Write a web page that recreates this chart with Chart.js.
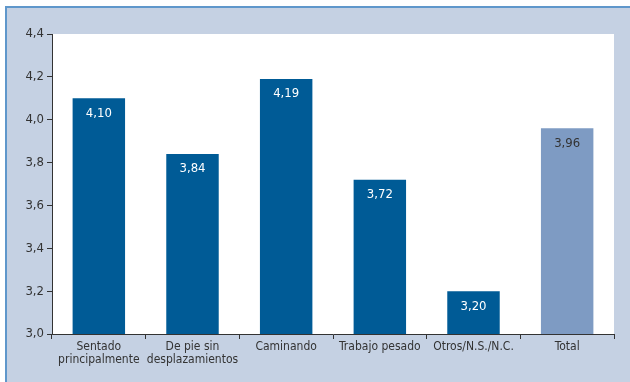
<!DOCTYPE html>
<html>
<head>
<meta charset="utf-8">
<script src="https://cdn.jsdelivr.net/npm/chart.js@4/dist/chart.umd.min.js"></script>
<style>
  html, body { margin: 0; padding: 0; background: #fff; overflow: hidden; width: 630px; height: 382px; }
  #frame {
    position: absolute; left: 5px; top: 6px; width: 625px; height: 376px; box-sizing: border-box;
    background: #c5d1e3; border-top: 2px solid #5f97cb; border-left: 2px solid #5f97cb;
  }
  #wrap { position: absolute; left: 0; top: 0; width: 630px; height: 382px; }
</style>
</head>
<body>
<div id="frame"></div>
<div id="wrap"><canvas id="chart" width="630" height="382"></canvas></div>
<script>
const categories = [["Sentado", "principalmente"], ["De pie sin", "desplazamientos"], "Caminando", "Trabajo pesado", "Otros/N.S./N.C.", "Total"]
const values = [4.10, 3.84, 4.19, 3.72, 3.20, 3.96]
const barColors = ["#005b96", "#005b96", "#005b96", "#005b96", "#005b96", "#7e9bc3"]
const labelColors = ["#fff", "#fff", "#fff", "#fff", "#fff", "#333"]

const fontFamily = "'DejaVu Sans Condensed', 'Liberation Sans', Arial, sans-serif"

// white plot area behind the bars
const plotBackground = {
  id: "plotBackground",
  beforeDraw(chart) {
    const { ctx, chartArea } = chart
    ctx.save()
    ctx.fillStyle = "#fff"
    ctx.fillRect(chartArea.left, chartArea.top, chartArea.right - chartArea.left, chartArea.bottom - chartArea.top)
    ctx.restore()
  }
}

// value text inside the top of each bar
const valueLabels = {
  id: "valueLabels",
  afterDatasetsDraw(chart) {
    const { ctx } = chart
    const meta = chart.getDatasetMeta(0)
    ctx.save()
    ctx.font = "13px " + fontFamily
    ctx.textAlign = "center"
    ctx.textBaseline = "middle"
    meta.data.forEach((bar, i) => {
      ctx.fillStyle = labelColors[i]
      ctx.fillText(values[i].toFixed(2).replace(".", ","), bar.x, bar.y + 15)
    })
    ctx.restore()
  }
}

const ctx = document.getElementById("chart").getContext("2d")
new Chart(ctx, {
  type: "bar",
  data: {
    labels: categories,
    datasets: [{
      data: values,
      backgroundColor: barColors,
      barPercentage: 0.56,
      categoryPercentage: 1
    }]
  },
  options: {
    responsive: false,
    animation: false,
    layout: { padding: { left: 0, top: 34, right: 16, bottom: 0 } },
    plugins: { legend: { display: false }, tooltip: { enabled: false } },
    scales: {
      y: {
        min: 3.0,
        max: 4.4,
        ticks: {
          stepSize: 0.2,
          color: "#333",
          font: { family: fontFamily, size: 13 },
          padding: 3,
          callback: (v) => v.toFixed(1).replace(".", ",")
        },
        grid: { drawOnChartArea: false, drawTicks: true, tickLength: 5, color: "#333" },
        border: { color: "#333", width: 1 },
        afterFit(scale) { scale.width = 52 }
      },
      x: {
        ticks: {
          color: "#333",
          font: { family: fontFamily, size: 12, lineHeight: 1.05 },
          padding: 2,
          maxRotation: 0,
          autoSkip: false
        },
        grid: { drawOnChartArea: false, drawTicks: true, tickLength: 5, color: "#333", offset: true },
        border: { color: "#333", width: 1 },
        afterFit(scale) { scale.height = 48 }
      }
    }
  },
  plugins: [plotBackground, valueLabels]
})
</script>
</body>
</html>
